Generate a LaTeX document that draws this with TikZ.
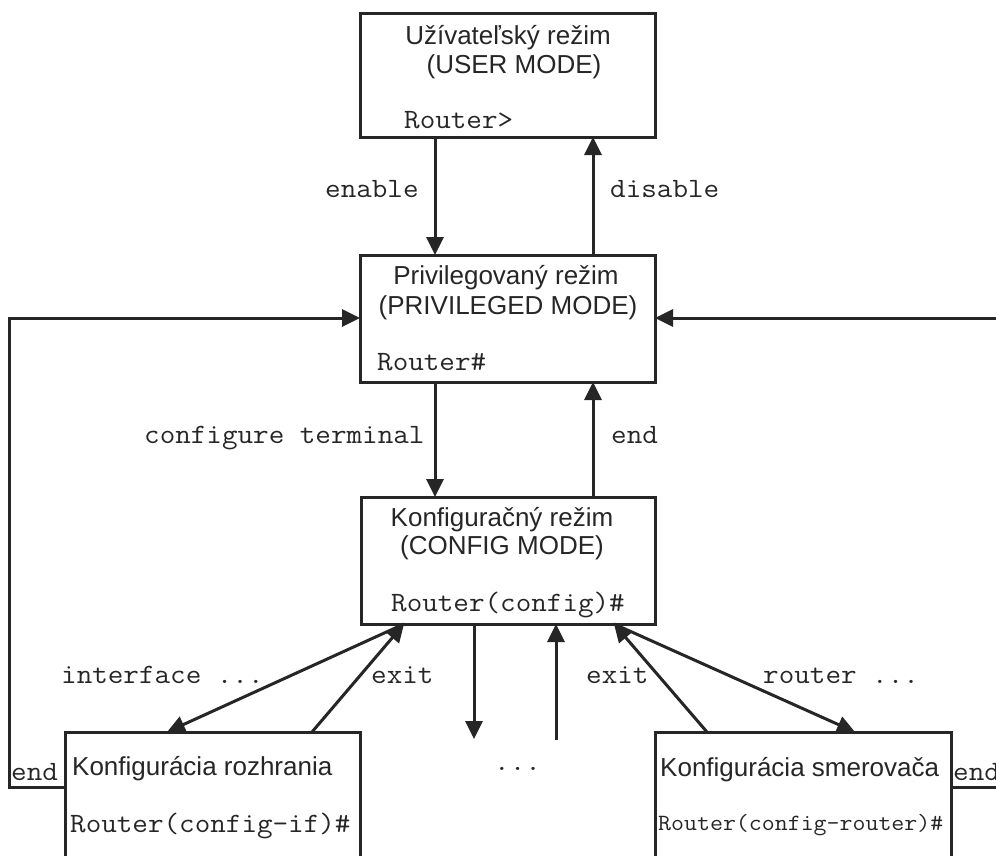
\documentclass[tikz,border=0pt]{standalone}
\usepackage{fontspec}
\setmainfont{Liberation Sans}
\setmonofont{Latin Modern Mono}[FakeStretch=1.08]
\usetikzlibrary{arrows.meta}
\definecolor{ink}{HTML}{262626}
\begin{document}
\begin{tikzpicture}[x=1pt,y=-1pt,
  modebox/.style={draw=ink, line width=3pt, rectangle, inner sep=0pt, outer sep=0pt, anchor=north west},
  title/.style={font=\fontsize{26}{30}\selectfont, text=ink, anchor=base, inner sep=0pt},
  titlew/.style={title, anchor=base west},
  prompt/.style={font=\ttfamily\fontsize{28}{32}\selectfont, text=ink, anchor=base west, inner sep=0pt},
  cmd/.style={prompt},
  conn/.style={draw=ink, line width=3pt},
  arr/.style={conn, -{Triangle[length=18pt,width=17pt]}}
]
\useasboundingbox (0,0) rectangle (996,855);
\clip (0,0) rectangle (996,855);

% mode boxes
\node[modebox, minimum width=295pt, minimum height=124pt] (user) at (360,13) {};
\node[modebox, minimum width=295pt, minimum height=127pt] (priv) at (360,255) {};
\node[modebox, minimum width=294pt, minimum height=127pt] (conf) at (361,497) {};
\node[modebox, minimum width=295pt, minimum height=170pt] (ifbox) at (65,732) {};
\node[modebox, minimum width=296pt, minimum height=170pt] (rtbox) at (655,732) {};

% box texts
\node[title] (userT1) at (508,44) {Užívateľský režim};
\node[title] (userT2) at (514,73) {(USER MODE)};
\node[prompt] (userP) at (404,128) {Router>};

\node[title] (privT1) at (506,284) {Privilegovaný režim};
\node[title] (privT2) at (508,314) {(PRIVILEGED MODE)};
\node[prompt] (privP) at (377,370) {Router\#};

\node[title] (confT1) at (502,526) {Konfiguračný režim};
\node[title] (confT2) at (502,554) {(CONFIG MODE)};
\node[prompt] (confP) at (391,611) {Router(config)\#};

\node[titlew] (ifT) at (72,775) {Konfigurácia rozhrania};
\node[prompt] (ifP) at (70,832) {Router(config-if)\#};

\node[titlew] (rtT) at (660,776) {Konfigurácia smerovača};
\node[prompt, font=\ttfamily\fontsize{23.3}{27}\selectfont] (rtP) at (658,830) {Router(config-router)\#};

% connector end points
\coordinate (xa) at (435,0);
\coordinate (xb) at (593,0);
\coordinate (cL) at (404,624);
\coordinate (cR) at (614,624);
\coordinate (ifIn) at (167,732);
\coordinate (ifOut) at (312,732);
\coordinate (rtOut) at (707,732);
\coordinate (rtIn) at (855,732);
\coordinate (midD) at (474,739);
\coordinate (midU) at (556,740);
\coordinate (endL) at (9,787);
\coordinate (cornerL) at (9,318);
\coordinate (endR) at (1005,787);
\coordinate (cornerR) at (1005,318);

% user <-> privileged
\draw[arr] (user.south -| xa) -- (priv.north -| xa);
\draw[arr] (priv.north -| xb) -- (user.south -| xb);
\node[cmd] (lEnable) at (325,197) {enable};
\node[cmd] (lDisable) at (610,197) {disable};

% privileged <-> config
\draw[arr] (priv.south -| xa) -- (conf.north -| xa);
\draw[arr] (conf.north -| xb) -- (priv.south -| xb);
\node[cmd] (lConfT) at (144,443) {configure terminal};
\node[cmd] (lEnd) at (611,443) {end};

% config <-> submodes
\draw[arr] (cL) -- (ifIn);
\draw[arr] (ifOut) -- (cL);
\draw[arr] (rtOut) -- (cR);
\draw[arr] (cR) -- (rtIn);
\draw[arr] (conf.south -| midD) -- (midD);
\draw[arr] (midU) -- (conf.south -| midU);
\node[cmd] (lIface) at (61,683) {interface ...};
\node[cmd] (lExitL) at (371,683) {exit};
\node[cmd] (lExitR) at (586,683) {exit};
\node[cmd] (lRouter) at (763,683) {router ...};
\node[cmd] (dots) at (494,770) {...};

% end: back to privileged mode
\draw[arr] (ifbox.west |- endL) -- (endL) -- (cornerL) -- (priv.west |- cornerL);
\draw[arr] (rtbox.east |- endR) -- (endR) -- (cornerR) -- (priv.east |- cornerR);
\node[cmd] (lEndL) at (11,780) {end};
\node[cmd] (lEndR) at (953,780) {end};
\end{tikzpicture}
\end{document}
